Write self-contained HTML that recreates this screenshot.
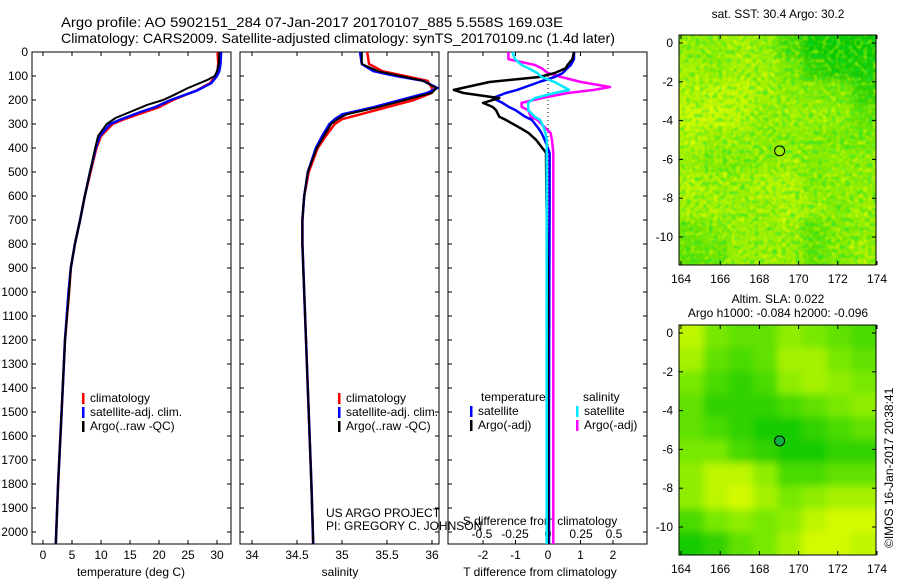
<!DOCTYPE html>
<html><head><meta charset="utf-8">
<style>
html,body{margin:0;padding:0;background:#fff;}
svg{display:block;font-family:"Liberation Sans",sans-serif;}
text{font-size:12px;fill:#000;}
</style></head>
<body>
<svg id="fig" width="900" height="580" viewBox="0 0 900 580">
<defs>
<filter id="blurS" x="0" y="0" width="1" height="1"><feGaussianBlur stdDeviation="4"/></filter>
<filter id="noiseY" x="0" y="0" width="1" height="1">
<feTurbulence type="fractalNoise" baseFrequency="0.22" numOctaves="1" seed="4" result="t"/>
<feColorMatrix in="t" type="matrix" values="0 0 0 0 1  0 0 0 0 1  0 0 0 0 0  2.2 0 0 0 -1.0"/>
</filter>
<filter id="noiseG" x="0" y="0" width="1" height="1">
<feTurbulence type="fractalNoise" baseFrequency="0.22" numOctaves="1" seed="11" result="t"/>
<feColorMatrix in="t" type="matrix" values="0 0 0 0 0  0 0 0 0 0.75  0 0 0 0 0.05  2.2 0 0 0 -1.0"/>
</filter>
<clipPath id="clipTop"><rect x="679" y="35" width="197" height="230"/></clipPath>
<clipPath id="clipBot"><rect x="679" y="325" width="197" height="230"/></clipPath>
</defs>
<text x="61" y="27" textLength="502" lengthAdjust="spacingAndGlyphs" style="font-size:14px">Argo profile: AO 5902151_284 07-Jan-2017 20170107_885 5.558S 169.03E</text>
<text x="61" y="43" textLength="554" lengthAdjust="spacingAndGlyphs" style="font-size:14px">Climatology: CARS2009. Satellite-adjusted climatology: synTS_20170109.nc (1.4d later)</text>
<g id="panels"></g>
<g id="maps"></g>
<text x="326" y="517">US ARGO PROJECT</text>
<text x="326" y="530">PI: GREGORY C. JOHNSON</text>
<text transform="translate(893,548) rotate(-90)">©IMOS 16-Jan-2017 20:38:41</text>
</svg>
<script>
// ---------- data ----------
const depthTicks=[0,100,200,300,400,500,600,700,800,900,1000,1100,1200,1300,1400,1500,1600,1700,1800,1900,2000];
const tTicks=[0,5,10,15,20,25,30];
const sTickLabels=["34","34.5","35","35.5","36"];
const dtTicks=[-2,-1,0,1,2];
const dsTickLabels=["-0.5","-0.25","0","0.25","0.5"];
const dsTickVals=[-0.5,-0.25,0,0.25,0.5];

const argoDepth=[0,50,80,100,117,150,180,200,220,250,275,300,350,400,500,600,700,800,900,1000,1200,1500,1800,2050];
const argoT=[30.4,30.3,30.0,29.6,28.3,25.0,22.5,20.7,18.0,15.0,12.5,11.0,9.5,9.0,8.1,7.2,6.4,5.5,4.8,4.5,3.8,3.2,2.6,2.2];
const climDepth=[0,50,80,100,130,160,200,230,250,280,300,350,400,500,600,700,800,900,1000,1200,1500,1800,2050];
const climT=[30.1,30.2,30.1,29.8,28.8,26.5,22.4,20.0,17.6,14.0,12.0,10.0,9.2,8.2,7.2,6.4,5.5,4.8,4.5,3.8,3.2,2.6,2.2];
const satT=[30.7,30.6,30.4,30.0,29.0,26.6,22.0,19.3,16.8,13.5,11.6,9.8,9.1,8.1,7.2,6.4,5.5,4.8,4.4,3.8,3.2,2.6,2.2];
const salDepth=[0,50,80,100,120,150,170,200,230,260,280,300,350,400,500,600,700,800,900,1000,1200,1500,1800,2050];
const argoS=[35.22,35.22,35.4,35.65,35.9,36.05,36.0,35.7,35.4,35.05,34.95,34.88,34.8,34.72,34.62,34.58,34.56,34.56,34.57,34.58,34.6,34.63,34.66,34.68];
const climS=[35.28,35.3,35.45,35.7,35.95,36.0,36.0,35.8,35.5,35.2,35.0,34.92,34.82,34.73,34.63,34.58,34.56,34.56,34.57,34.58,34.6,34.63,34.66,34.68];
const satS=[35.2,35.22,35.35,35.6,35.9,36.06,35.95,35.65,35.35,35.0,34.92,34.86,34.78,34.71,34.62,34.58,34.56,34.56,34.57,34.58,34.6,34.63,34.66,34.68];
const diffDepth=[0,30,54,67,88,104,125,146,158,171,192,212,229,242,270,283,317,337,367,420,600,1000,1500,2050];
const dtArgo=[0.8,0.75,0.6,0.55,0.2,-0.27,-1.8,-2.5,-2.9,-2.6,-1.5,-2.0,-1.7,-1.6,-1.5,-1.3,-0.85,-0.6,-0.36,-0.06,-0.05,0.0,0.0,0.0];
const dtSat=[0.8,0.8,0.7,0.6,0.45,0.2,-0.27,-0.7,-0.95,-1.3,-1.7,-1.4,-1.2,-1.0,-0.7,-0.5,-0.3,-0.2,-0.1,0.05,0.05,0.04,0.03,0.03];
const dsArgo=[-0.3,-0.3,-0.1,-0.05,0.0,0.1,0.25,0.47,0.35,0.15,-0.05,-0.2,-0.2,-0.15,-0.13,-0.08,-0.02,0.02,0.03,0.04,0.04,0.04,0.04,0.04];
const dsSat=[-0.27,-0.25,-0.2,-0.15,-0.08,-0.05,0.05,0.12,0.16,0.05,-0.1,-0.15,-0.15,-0.15,-0.1,-0.06,-0.03,-0.02,-0.01,-0.01,-0.01,-0.01,-0.01,-0.01];

const lonTicks=[164,166,168,170,172,174];
const latTicks=[0,-2,-4,-6,-8,-10];
const sstGrid=[
[.6,.6,.7,.6,.3,.05,.05,.05],[.7,.6,.7,.7,.5,.2,.1,.1],[.75,.8,.8,.7,.6,.55,.5,.2],
[.85,.85,.8,.6,.65,.65,.6,.4],[.75,.65,.65,.6,.6,.55,.5,.5],[.65,.55,.55,.6,.65,.55,.6,.6],
[.75,.65,.65,.75,.75,.55,.6,.6],[.7,.7,.65,.65,.75,.65,.55,.65],[.45,.55,.65,.65,.65,.4,.55,.6],[.4,.45,.65,.65,.65,.4,.55,.65]];
const slaGrid=[
[.8,.5,.4,.4,.6,.5,.4,.3],[.7,.4,.3,.4,.7,.7,.5,.4],[.5,.3,.2,.3,.6,.7,.6,.5],
[.4,.2,.2,.2,.3,.4,.5,.6],[.4,.3,.2,.1,.1,.2,.3,.4],[.5,.5,.3,.2,.1,.1,.2,.2],
[.6,.8,.8,.6,.3,.3,.4,.4],[.6,.8,.9,.7,.5,.6,.7,.7],[.3,.5,.6,.5,.6,.8,.9,.9],[.1,.2,.4,.5,.7,.9,.9,.8]];
const argoLon=169.03, argoLat=-5.558;

// ---------- helpers ----------
const NS="http://www.w3.org/2000/svg";
function mk(tag,attrs,parent){const e=document.createElementNS(NS,tag);for(const k in attrs)e.setAttribute(k,attrs[k]);parent.appendChild(e);return e;}
const yD=d=>52+0.24*d;
const xT=t=>43+5.8*t;
const xS=s=>342+90*(s-35);
const xDT=t=>548+32.5*t;
const xDS=s=>548+132*s;
const P=document.getElementById('panels');
const M=document.getElementById('maps');

function line(xs,ys,xf,color,name,w){
  let d='';
  const n=Math.min(xs.length,ys.length);
  for(let i=0;i<n;i++){d+=(i?'L':'M')+xf(xs[i]).toFixed(1)+','+yD(ys[i]).toFixed(1);}
  const p=mk('path',{d:d,fill:'none',stroke:color,'stroke-width':w||2.5,'stroke-linejoin':'round'},P);
  
  
}
function box(x,w,name){
  const r=mk('rect',{x:x,y:52,width:w,height:492,fill:'none',stroke:'#000','stroke-width':1},P);
  
  
}
function txt(x,y,s,anchor,name,parent,size){
  const t=mk('text',{x:x,y:y,'text-anchor':anchor||'start'},parent||P);
  if(size)t.style.fontSize=size+'px';
  t.textContent=s;
  
  
  return t;
}
function tick(x1,y1,x2,y2,parent){mk('line',{x1:x1,y1:y1,x2:x2,y2:y2,stroke:'#000','stroke-width':1},parent||P);}

box(32,199,'temperature-panel');box(240,199,'salinity-panel');box(448,199,'difference-panel');
depthTicks.forEach(d=>{
  const y=yD(d);
  txt(28,y+4,String(d),'end','depth-tick-label');
  [32,240,448].forEach(x0=>{tick(x0,y,x0+4,y);tick(x0+199,y,x0+195,y);});
});
tTicks.forEach(t=>{const x=xT(t);tick(x,544,x,540);tick(x,52,x,56);txt(x,559,String(t),'middle','temperature-tick-label');});
txt(131,576,'temperature (deg C)','middle','temperature-axis-title');
const sVals=[34,34.5,35,35.5,36];
sTickLabels.forEach((s,i)=>{const x=xS(sVals[i]);tick(x,544,x,540);tick(x,52,x,56);txt(x,559,s,'middle','salinity-tick-label');});
txt(340,576,'salinity','middle','salinity-axis-title');
dtTicks.forEach(t=>{const x=xDT(t);tick(x,544,x,540);tick(x,52,x,56);txt(x,559,String(t),'middle','t-diff-tick-label');});
dsTickVals.forEach((s,i)=>{const x=xDS(s);txt(x,538,dsTickLabels[i],'middle','s-diff-tick-label');});
txt(540,525,'S difference from climatology','middle','s-diff-axis-title');
txt(540,576,'T difference from climatology','middle','t-diff-axis-title');
const z=mk('line',{x1:548,y1:52,x2:548,y2:544,stroke:'#000','stroke-width':1,'stroke-dasharray':'1,3'},P);



line(climT,climDepth,xT,'#ff0000','temp-climatology-line');
line(satT,climDepth,xT,'#0000ff','temp-satellite-line');
line(argoT,argoDepth,xT,'#000000','temp-argo-line',2);
line(climS,salDepth,xS,'#ff0000','sal-climatology-line');
line(satS,salDepth,xS,'#0000ff','sal-satellite-line');
line(argoS,salDepth,xS,'#000000','sal-argo-line',2);
line(dsArgo,diffDepth,xDS,'#ff00ff','sdiff-argo-line');
line(dtSat,diffDepth,xDT,'#0000ff','tdiff-satellite-line');
line(dtArgo,diffDepth,xDT,'#000000','tdiff-argo-line');
line(dsSat,diffDepth,xDS,'#00e8ff','sdiff-satellite-line');

function leg(x,y,color,label,name){
  const r=mk('rect',{x:x,y:y-9,width:2.5,height:11,fill:color},P);
  
  
  txt(x+8,y,label,'start',name);
}
leg(82,402,'#ff0000','climatology','legend-climatology');
leg(82,416,'#0000ff','satellite-adj. clim.','legend-satellite');
leg(82,430,'#000000','Argo(..raw -QC)','legend-argo');
leg(338,402,'#ff0000','climatology','legend2-climatology');
leg(338,416,'#0000ff','satellite-adj. clim.','legend2-satellite');
leg(338,430,'#000000','Argo(..raw -QC)','legend2-argo');
txt(481,401,'temperature','start','legend-temperature-header');
txt(583,401,'salinity','start','legend-salinity-header');
leg(470,415,'#0000ff','satellite','legend-t-satellite');
leg(470,429,'#000000','Argo(-adj)','legend-t-argo');
leg(576,415,'#00e8ff','satellite','legend-s-satellite');
leg(576,429,'#ff00ff','Argo(-adj)','legend-s-argo');

// ---------- maps ----------
function col(v){
  let r,g,b;
  if(v<0.5){const f=v/0.5;r=0+f*120;g=196+f*36;b=0;}
  else{const f=(v-0.5)/0.5;r=120+f*115;g=232+f*23;b=0;}
  return 'rgb('+Math.round(r)+','+Math.round(g)+','+Math.round(b)+')';
}
function map(y0,grid,clip,name,noise,latZeroY){
  const x0=679,w=197,h=230;
  const g=mk('g',{'clip-path':'url(#'+clip+')'},M);
  
  
  const inner=mk('g',{filter:'url(#blurS)'},g);
  const rows=grid.length,cols=grid[0].length;
  const cw=w/cols,ch=h/rows;
  mk('rect',{x:x0-20,y:y0-20,width:w+40,height:h+40,fill:col(0.5)},inner);
  grid.forEach((row,i)=>row.forEach((v,j)=>{
    const c=mk('rect',{x:x0+j*cw-(j==0?20:0),y:y0+i*ch-(i==0?20:0),width:cw+(j==0||j==cols-1?20:0)+0.5,height:ch+(i==0||i==rows-1?20:0)+0.5,fill:col(v)},inner);
    
  }));
  if(noise){
    mk('rect',{x:x0,y:y0,width:w,height:h,filter:'url(#noiseY)',opacity:0.7},g);
    mk('rect',{x:x0,y:y0,width:w,height:h,filter:'url(#noiseG)',opacity:0.7},g);
  }
  const fr=mk('rect',{x:x0,y:y0,width:w,height:h,fill:'none',stroke:'#000','stroke-width':1},M);
  
  
  const xL=lon=>681+19.6*(lon-164);
  const yL=lat=>latZeroY-19.4*lat;
  lonTicks.forEach(l=>{tick(xL(l),y0+h,xL(l),y0+h-4,M);tick(xL(l),y0,xL(l),y0+4,M);txt(xL(l),y0+h+18,String(l),'middle','map-lon-tick-label',M);});
  latTicks.forEach(l=>{tick(x0,yL(l),x0+4,yL(l),M);tick(x0+w,yL(l),x0+w-4,yL(l),M);txt(x0-6,yL(l)+4,String(l),'end','map-lat-tick-label',M);});
  const c=mk('circle',{cx:xL(argoLon),cy:yL(argoLat),r:5,fill:noise?'none':'#10b040',stroke:'#000','stroke-width':1},M);
  
  
}
map(35,sstGrid,'clipTop','sst-map',true,43);
map(325,slaGrid,'clipBot','sla-map',false,333);
txt(778,18,'sat. SST: 30.4 Argo: 30.2','middle','sst-map-title',M);
txt(778,303,'Altim. SLA: 0.022','middle','sla-map-title',M);
txt(778,317,'Argo h1000: -0.084 h2000: -0.096','middle','sla-map-subtitle',M);
</script>
</body></html>
